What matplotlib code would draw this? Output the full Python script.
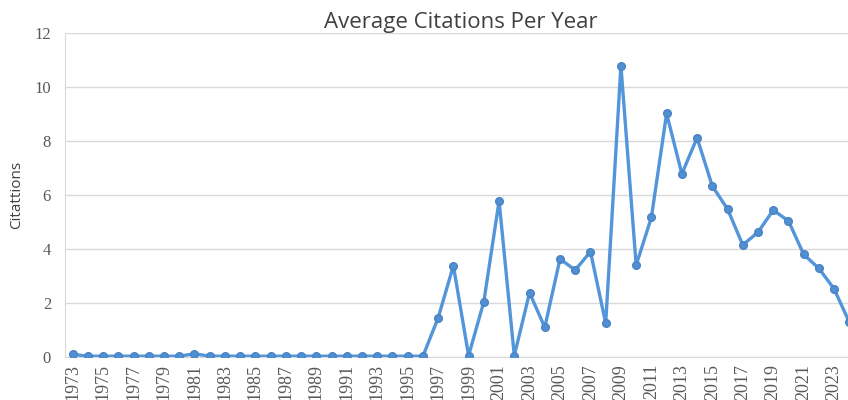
import matplotlib.pyplot as plt

# data
years = list(range(1973, 2025))
citations = [0.1, 0.03, 0.03, 0.03, 0.03, 0.03, 0.03, 0.03, 0.12, 0.03,
             0.03, 0.03, 0.03, 0.03, 0.03, 0.03, 0.03, 0.03, 0.03, 0.03,
             0.03, 0.03, 0.03, 0.03, 1.45, 3.38, 0.05, 2.05, 5.78, 0.05,
             2.38, 1.1, 3.63, 3.22, 3.9, 1.25, 10.79, 3.4, 5.17, 9.02,
             6.78, 8.12, 6.33, 5.48, 4.15, 4.62, 5.44, 5.04, 3.8, 3.28,
             2.52, 1.28]
yticks = [0, 2, 4, 6, 8, 10, 12]
label_years = years[::2]

fig = plt.figure(figsize=(8.48, 4.0), dpi=100)
ax = fig.add_axes([65/848, 1-357/400, 792/848, 324/400])

ax.plot(years, citations, color='#5295da', lw=2.4, marker='o', ms=5.5,
        mec='#4a83c4', mfc='#4f8fd2', zorder=3)

ax.set_ylim(0, 12)
ax.set_xlim(years[0]-0.5, years[-1]+0.5)
ax.set_yticks(yticks)
ax.set_xticks(label_years)
ax.set_xticklabels([str(y) for y in label_years], rotation=90, va='top')
ax.grid(axis='y', color='#d9d9d9', lw=1)
ax.set_axisbelow(True)

for s in ['top', 'right']:
    ax.spines[s].set_visible(False)
for s in ['left', 'bottom']:
    ax.spines[s].set_color('#d9d9d9')
ax.tick_params(axis='y', length=0, labelcolor='#595959', labelsize=12, pad=10)
ax.tick_params(axis='x', length=0, labelcolor='#595959', labelsize=13, pad=5)
for lab in ax.get_xticklabels() + ax.get_yticklabels():
    lab.set_fontfamily('Liberation Serif')

ax.set_ylabel('Citattions', fontsize=11, color='#404040', family='Open Sans')
ax.yaxis.set_label_coords(-0.052, 0.5)
ax.set_title('Average Citations Per Year', fontsize=16, color='#404040',
             family='Open Sans', pad=1)

fig.savefig('out.png', dpi=100)
